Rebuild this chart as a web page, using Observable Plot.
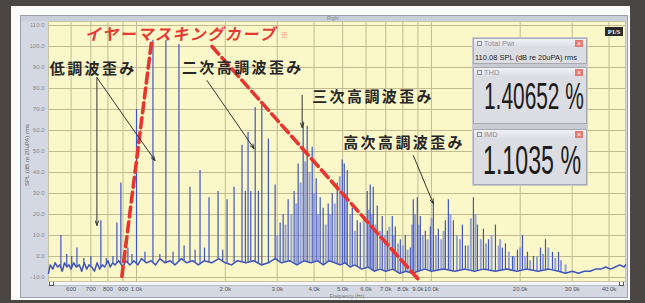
<!DOCTYPE html>
<html><head><meta charset="utf-8">
<script src="https://cdn.jsdelivr.net/npm/d3@7"></script>
<script src="https://cdn.jsdelivr.net/npm/@observablehq/plot@0.6"></script>
<style>
html,body{margin:0;padding:0;background:#4a4643;}
#stage{position:relative;width:645px;height:303px;overflow:hidden;background:#4a4643;font-family:"Liberation Sans",Arial,sans-serif;}
#paper{position:absolute;left:11px;top:6px;width:619px;height:294px;background:#fbfbfb;}
#win{position:absolute;left:20px;top:15px;width:608px;height:283px;background:#d4d8e3;border:1px solid #9aa0ad;box-sizing:border-box;}
#titlebar{position:absolute;left:21px;top:16px;width:606px;height:5px;background:#c9cedb;}
#wtitle{position:absolute;left:327px;top:15px;font-size:5px;color:#7d8292;}
#chart{position:absolute;left:0;top:0;}
#scroll{position:absolute;left:48px;top:281px;width:577px;height:5px;background:#f5f6f9;border-top:1px solid #b9bcc6;border-bottom:1px solid #b9bcc6;box-sizing:border-box;}
.sbtn{position:absolute;top:281px;width:5px;height:5px;border:1px solid #555;box-sizing:border-box;background:#fff;}
#ylab{position:absolute;left:27px;top:155px;transform:translate(-50%,-50%) rotate(-90deg);font-size:6px;color:#6d6570;white-space:nowrap;}
#xlab{position:absolute;left:347px;top:293px;transform:translateX(-50%);font-size:5px;color:#777;white-space:nowrap;}
#badge{position:absolute;left:605px;top:27px;width:18px;height:9px;background:#2a2a2a;color:#fff;font:bold 6.5px "Liberation Serif",serif;line-height:9px;text-align:center;}
#meters{position:absolute;left:472px;top:37px;width:116px;height:149px;background:#c9cbd2;}
.panel{position:absolute;left:1px;width:114px;background:#dcdde2;border:1px solid #a8aab2;box-sizing:border-box;overflow:hidden;}
.ptitle{position:absolute;left:0;top:0;width:100%;height:9px;background:linear-gradient(#f1f2f6,#d9dce4);}
.ptitle span.t{position:absolute;left:10px;top:0;font-size:7.5px;line-height:9px;color:#8a8f9c;}
.ptitle span.c{position:absolute;left:3px;top:2px;width:5px;height:5px;border:1px solid #8a8f9c;box-sizing:border-box;}
.ptitle span.x{position:absolute;right:3px;top:1px;width:8px;height:7px;background:#e27a78;color:#fff;font-size:7px;line-height:7px;text-align:center;}
.pval{position:absolute;white-space:nowrap;color:#1c1c1c;}
.big{transform:scaleX(0.58);transform-origin:0 0;font-family:"Liberation Sans",Arial,sans-serif;}
#chart g[aria-label^="y-axis"] text{fill:#8a8a8a;}
#chart g[aria-label="text"][fill="#262626"] text{letter-spacing:2.4px;}
#chart g[aria-label="text"][fill="#e53a33"] text{letter-spacing:1.6px;}
</style></head>
<body>
<div id="stage">
  <div id="paper"></div>
  <div id="win"></div>
  <div id="titlebar"></div>
  <div id="wtitle">Right</div>
  <div id="scroll"></div>
  <div class="sbtn" style="left:49px"></div>
  <div class="sbtn" style="left:619px"></div>
  <div id="ylab"></div>
  <div id="xlab"></div>
  <div id="chart"></div>
  <div id="badge">P1/S</div>
  <div id="meters"></div>
</div>
<script>
// ---- data ----
const xTickHz = [600,700,800,900,1000,2000,3000,4000,5000,6000,7000,8000,9000,10000,20000,30000,40000];
const xTickLabels = ["600","700","800","900","1.0k","2.0k","3.0k","4.0k","5.0k","6.0k","7.0k","8.0k","9.0k","10.0k","20.0k","30.0k","40.0k"];
const yTickDb = [-10,0,10,20,30,40,50,60,70,80,90,100,110];
const yTickLabels = ["-10.0","0.0","10.0","20.0","30.0","40.0","50.0","60.0","70.0","80.0","90.0","100.0","110.0"];

const floorHz = [503,510,520,530,540,550,560,570,580,590,600,612,625,640,652,665,678,690,705,720,735,750,765,780,800,815,830,845,870,900,920,950,980,1010,1040,1080,1120,1160,1200,1250,1300,1350,1420,1480,1550,1620,1700,1800,1900,2000,2100,2200,2350,2500,2650,2800,2950,3100,3300,3500,3700,3900,4100,4300,4500,4700,4900,5100,5300,5500,5800,6100,6400,6700,7000,7400,7800,8200,8600,9000,9500,10000,11000,12000,13000,14000,15000,16500,18000,19500,21000,23000,25000,27000,28500,30000,31500,33000,34500,36000,37500,39000,40500,42000,43500,45000,45500];
const floorDb = [-8,-4,-6,-3,-5,-4,-7,-3,-5,-4,-6,-3,-5,-4,-7,-3,-6,-4,-5,-7,-3,-6,-4,-5,-2,-5,-3,-4,-2,-5,-2,-4,-2,-4,-1,-3,-2,-4,-1,-3,-2,-4,-1,-3,-2,-4,-2,-3,-1,-3,-4,-2,-3,-2,-4,-3,-1,-3,-2,-4,-2,-3,-2,-4,-2,-3,-4,-3,-5,-4,-6,-5,-7,-6,-7,-6,-8,-7,-8,-7,-6,-7,-6,-7,-6,-7,-6,-7,-6,-7,-6,-7,-6,-7,-8,-7,-8,-7,-7,-6,-6,-5,-6,-5,-4,-5,-4];

const spikeHz = [554,580,603,628,663,700,757,790,832,858,885,935,965,1000,1068,1137,1200,1258,1330,1393,1450,1518,1580,1642,1700,1761,1890,1960,2028,2142,2279,2340,2389,2440,2526,2590,2660,2800,2951,3069,3142,3267,3424,3533,3674,3791,3942,4067,4196,4295,4467,4609,4793,4984,5063,5183,5390,5604,5737,6058,6202,6349,6551,6812,7085,7367,7542,7843,8155,8481,8680,8957,9169,9535,9915,10150,10555,11150,11414,11870,12735,13037,13879,14320,15008,15608,16482,17405,17818,18825,19574,20355,21164,22182,23430,24365,25727,26974];
const spikeDb = [10,1,0,4,-1,0,17,-1,0,16,35,4,1,70,2,103,1,103,2,101,5,33,3,41,4,28,31,3,27,33,53,31,59,31,71,31,72,56,34,16,20,27,31,44,64,62,52,37,28,23,25,30,35,46,44,41,23,17,16,31,34,33,24,19,12,19,14,8,10,4,27,28,19,12,14,26,13,17,27,17,15,5,28,15,13,8,15,4,6,0,3,10,2,0,4,8,2,2];

const clusterHz = [3000,3200,3350,3480,3600,3730,3860,4000,4130,4380,4540,4700,4890,5120,5300,5500,5900,6130,6280,6450,6700,6950,7200,7450,7700,8000,8300,8600,8800,9050,9350,9700,10000,10350,10800,11000,11600,12200,12500,13300,13600,14100,14700,15300,16000,16900,17100,18300,19100,20000,20800,21600,22800,23900,24900,26300,27500,28500];
const clusterDb = [10,15,20,25,35,45,40,30,20,15,20,25,38,30,20,12,18,22,20,15,12,10,14,10,6,5,3,15,20,15,10,8,18,10,8,12,20,10,8,5,18,20,8,6,10,5,8,2,0,4,0,-2,0,1,4,-1,-2,-4];

const maskSeg = ["L","L","R","R"];
const maskHz = [892,1128,1803,9100];
const maskDb = [-9.5,103.8,100,-11.4];

const labelText = ["低調波歪み","二次高調波歪み","三次高調波歪み","高次高調波歪み"];
const labelHz = [508,1426,3942,5022];
const labelDb = [89.0,89.5,75.7,53.8];

const titleText = "イヤーマスキングカーブ";
const titleHz = 668, titleDb = 105.7;
const noteText = "※", noteHz = 3080, noteDb = 105.4;

const arrowFromHz = [734,734,1734,3645,8680];
const arrowFromDb = [85.2,85.2,83.8,76.7,48.1];
const arrowToHz = [734,1155,2504,3645,10150];
const arrowToDb = [14.8,45.7,51.4,61.4,25.2];

const meterNames = ["Total Pwr","THD","IMD"];
const meterValues = ["110.08 SPL (dB re 20uPA) rms","1.40652 %","1.1035 %"];

const yLabel = "SPL (dB re 20uPA) rms";
const xLabel = "Frequency (Hz)";

// ---- build ----
const lf = floorHz.map(Math.log);
function floorAt(f){
  const l = Math.log(f);
  const i = d3.bisectLeft(lf, l);
  if (i <= 0) return floorDb[0];
  if (i >= lf.length) return floorDb[floorDb.length-1];
  const t = (l - lf[i-1])/(lf[i]-lf[i-1]);
  return floorDb[i-1] + t*(floorDb[i]-floorDb[i-1]);
}
const floor = floorHz.map((f,i)=>({f, db: floorDb[i]}));
const spikes = spikeHz.map((f,i)=>({f, db: spikeDb[i], base: floorAt(f)}));
const cluster = clusterHz.map((f,i)=>({f, db: clusterDb[i], base: floorAt(f)}));
const mask = maskHz.map((f,i)=>({f, db: maskDb[i], seg: maskSeg[i]}));
const labels = labelText.map((t,i)=>({t, f: labelHz[i], db: labelDb[i]}));
const arrows = arrowFromHz.map((f,i)=>({fx:f, fy:arrowFromDb[i], tx:arrowToHz[i], ty:arrowToDb[i]}));
const xTicks = xTickHz.map((f,i)=>({f, t: xTickLabels[i]}));

const plot = Plot.plot({
  width: 645, height: 303,
  marginLeft: 48, marginRight: 20, marginTop: 21, marginBottom: 22,
  style: {background: "transparent", fontSize: "6px", fontFamily: "Liberation Sans, Arial, sans-serif"},
  x: {type: "log", domain: [503, 45500], axis: null},
  y: {domain: [-11.9, 111.9], ticks: yTickDb, tickFormat: d => yTickLabels[yTickDb.indexOf(d)] ?? "", tickSize: 0, tickPadding: 4, label: null},
  marks: [
    Plot.frame({fill: "#faf8c9", stroke: "#c8c3a0"}),
    Plot.ruleX(xTickHz, {stroke: "#c3ba92", strokeWidth: 1}),
    Plot.ruleY(yTickDb, {stroke: "#c3ba92", strokeWidth: 1}),
    Plot.ruleX(cluster, {x: "f", y1: "base", y2: "db", stroke: "#8493dc", strokeWidth: 2, strokeOpacity: 0.85}),
    Plot.line(floor, {x: "f", y: "db", stroke: "#3f53bd", strokeWidth: 1.5}),
    Plot.ruleX(spikes, {x: "f", y1: "base", y2: "db", stroke: "#4255be", strokeWidth: 1.2}),
    Plot.line(mask, {x: "f", y: "db", z: "seg", stroke: "#e8352f", strokeWidth: 3.6, strokeDasharray: "10,5"}),
    Plot.text(xTicks, {x: "f", text: "t", frameAnchor: "bottom", dy: 9.5, fill: "#555", fontSize: 6}),
    Plot.text([titleText], {x: () => titleHz, y: () => titleDb, text: d => d, fill: "#e53a33", fontSize: 16, fontWeight: "bold", fontStyle: "italic", fontFamily: "Noto Sans CJK JP", textAnchor: "start"}),
    Plot.text([noteText], {x: () => noteHz, y: () => noteDb, text: d => d, fill: "#ec6a60", fontSize: 8, fontFamily: "Noto Sans CJK JP", textAnchor: "start"}),
    Plot.text(labels, {x: "f", y: "db", text: "t", fill: "#262626", fontSize: 15, fontWeight: "bold", fontFamily: "Noto Sans CJK JP", textAnchor: "start"}),
    Plot.arrow(arrows, {x1: "fx", y1: "fy", x2: "tx", y2: "ty", stroke: "#333", strokeWidth: 1, headLength: 7, headAngle: 40})
  ]
});
document.getElementById("chart").appendChild(plot);
document.getElementById("ylab").textContent = yLabel;
document.getElementById("xlab").textContent = xLabel;

// meters
const meters = document.getElementById("meters");
const layout = [
  {top: 1, h: 26},
  {top: 30, h: 57},
  {top: 92, h: 56}
];
meterNames.forEach((name, i) => {
  const p = document.createElement("div");
  p.className = "panel";
  p.style.top = layout[i].top + "px";
  p.style.height = layout[i].h + "px";
  p.innerHTML = `<div class="ptitle"><span class="c"></span><span class="t">${name}</span><span class="x">×</span></div>`;
  const v = document.createElement("div");
  v.className = "pval";
  v.textContent = meterValues[i];
  if (i === 0) {
    v.style.cssText += "left:1px;top:15px;font-size:7.5px;line-height:8px;";
  } else if (i === 1) {
    v.classList.add("big");
    v.style.cssText += "left:10px;top:15px;font-size:36px;line-height:28px;";
  } else {
    v.classList.add("big");
    v.style.cssText += "left:9px;top:15px;font-size:40px;line-height:31px;";
  }
  p.appendChild(v);
  meters.appendChild(p);
});
</script>
</body></html>
